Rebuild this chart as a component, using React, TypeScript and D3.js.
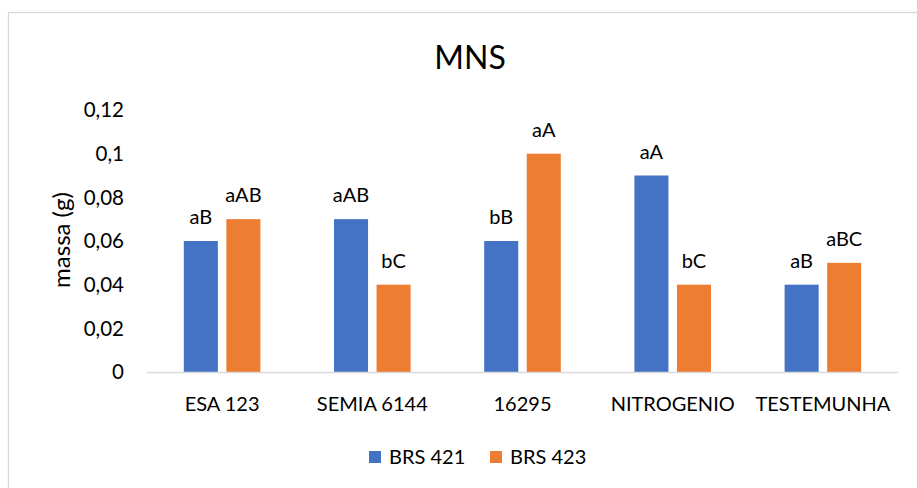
import React from "react";
import * as d3 from "d3";

const categories = ["ESA 123", "SEMIA 6144", "16295", "NITROGENIO", "TESTEMUNHA"];
const seriesNames = ["BRS 421", "BRS 423"];
const brs421 = [0.06, 0.07, 0.06, 0.09, 0.04];
const brs423 = [0.07, 0.04, 0.1, 0.04, 0.05];
const labels421 = ["aB", "aAB", "bB", "aA", "aB"];
const labels423 = ["aAB", "bC", "aA", "bC", "aBC"];
const yTicks = [0, 0.02, 0.04, 0.06, 0.08, 0.1, 0.12];
const colors = ["#4472C4", "#ED7D31"];

const W = 917;
const H = 488;
const FONT = "Lato, 'Open Sans', sans-serif";

export default function App() {
  const left = 147, right = 898, top = 110, bottom = 372;
  const y = d3.scaleLinear().domain([0, 0.12]).range([bottom, top]);
  const x0 = d3.scaleBand<string>().domain(categories).range([left, right]).paddingInner(0.49).paddingOuter(0.245);
  const x1 = d3.scaleBand<string>().domain(seriesNames).range([0, x0.bandwidth()]).paddingInner(0.2);
  const values = [brs421, brs423];
  const lbls = [labels421, labels423];
  const fmt = (v: number) => String(+v.toFixed(2)).replace(".", ",");

  return (
    <svg width={W} height={H} style={{ position: "absolute", left: 0, top: 0, background: "#fff" }} fontFamily={FONT}>
      <rect x={0} y={0} width={W} height={H} fill="#fff" />
      <rect x={8.5} y={12.5} width={1200} height={1200} fill="none" stroke="#d9d9d9" strokeWidth={1.3} />
      <text x={470} y={69} textAnchor="middle" fontSize={32} fill="#000">MNS</text>
      {yTicks.map((t) => (
        <text key={t} x={124} y={y(t)} dy="0.35em" textAnchor="end" fontSize={20.5} fill="#000">{fmt(t)}</text>
      ))}
      <text transform={`translate(62,240) rotate(-90)`} textAnchor="middle" dy="0.35em" fontSize={24} fill="#000">massa (g)</text>
      {categories.map((c, i) => (
        <g key={c}>
          {seriesNames.map((s, j) => {
            const v = values[j][i];
            const bx = (x0(c) as number) + (x1(s) as number);
            return (
              <g key={s}>
                <rect x={bx} y={y(v)} width={x1.bandwidth()} height={bottom - y(v)} fill={colors[j]} />
                <text x={bx + x1.bandwidth() / 2} y={y(v) - 17} textAnchor="middle" fontSize={20} fill="#000">{lbls[j][i]}</text>
              </g>
            );
          })}
          <text x={(x0(c) as number) + x0.bandwidth() / 2} y={404} dy="0.35em" textAnchor="middle" fontSize={20} fill="#000">{c}</text>
        </g>
      ))}
      <line x1={left} x2={right} y1={bottom + 0.5} y2={bottom + 0.5} stroke="#d9d9d9" strokeWidth={1.5} />
      {seriesNames.map((s, j) => {
        const lx = [369, 490][j];
        return (
          <g key={s}>
            <rect x={lx} y={451} width={12} height={12} fill={colors[j]} />
            <text x={lx + 20} y={457} dy="0.35em" fontSize={20} fill="#000">{s}</text>
          </g>
        );
      })}
    </svg>
  );
}
